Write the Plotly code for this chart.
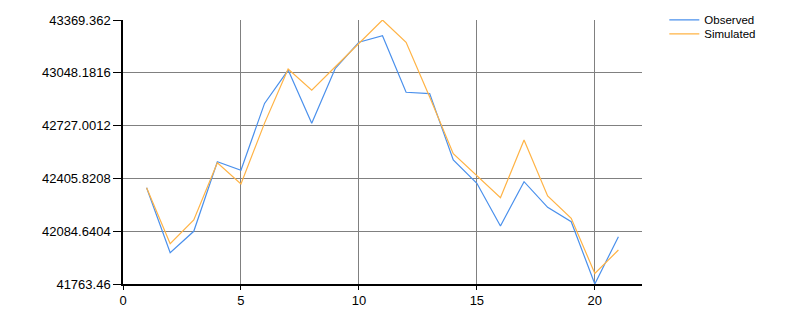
import plotly.graph_objects as go

x_vals = list(range(1, 22))
observed = [42349, 41954, 42084, 42507, 42455, 42862, 43065, 42741, 43076, 43234,
            43274, 42930, 42922, 42518, 42376, 42116, 42386, 42230, 42142, 41763.46, 42051]
simulated = [42349, 42009, 42153, 42501, 42372, 42742, 43071, 42942, 43085, 43227,
             43369.362, 43234, 42901, 42556, 42420, 42288, 42639, 42299, 42163, 41828, 41970]

y_tick_vals = [41763.46, 42084.6404, 42405.8208, 42727.0012, 43048.1816, 43369.362]
y_tick_text = ["41763.46", "42084.6404", "42405.8208", "42727.0012", "43048.1816", "43369.362"]
x_tick_vals = [0, 5, 10, 15, 20]

font_family = "Liberation Sans, Arial, sans-serif"

fig = go.Figure()
fig.add_trace(go.Scatter(x=x_vals, y=observed, mode="lines", name="Observed",
                         line=dict(color="#4a90ec", width=1.2), legend="legend"))
fig.add_trace(go.Scatter(x=x_vals, y=simulated, mode="lines", name="Simulated",
                         line=dict(color="#ffb345", width=1.2), legend="legend2"))

leg_common = dict(xanchor="left", yanchor="top", font=dict(size=11.5, color="#000000"),
                  bgcolor="rgba(0,0,0,0)")
fig.update_layout(
    width=789, height=326, autosize=False,
    margin=dict(l=123, r=147, t=20, b=42, pad=0, autoexpand=False),
    paper_bgcolor="white", plot_bgcolor="white",
    font=dict(family=font_family, size=12, color="#000000"),
    legend=dict(x=1.043, y=1.0555, **leg_common),
    legend2=dict(x=1.043, y=1.0025, **leg_common),
    showlegend=True,
)
fig.update_xaxes(range=[0, 22], tickvals=x_tick_vals, showgrid=True,
                 gridcolor="#808080", gridwidth=1, zeroline=False,
                 showline=True, linecolor="#000000", linewidth=1.5,
                 ticks="outside", ticklen=4, tickcolor="#000000",
                 tickfont=dict(size=13))
fig.update_yaxes(range=[41763.46, 43369.362], tickvals=y_tick_vals, ticktext=y_tick_text,
                 showgrid=True, gridcolor="#808080", gridwidth=1, zeroline=False,
                 showline=True, linecolor="#000000", linewidth=1.5,
                 ticks="outside", ticklen=8, tickcolor="#000000",
                 tickfont=dict(size=13))

fig.write_html("out.html")
